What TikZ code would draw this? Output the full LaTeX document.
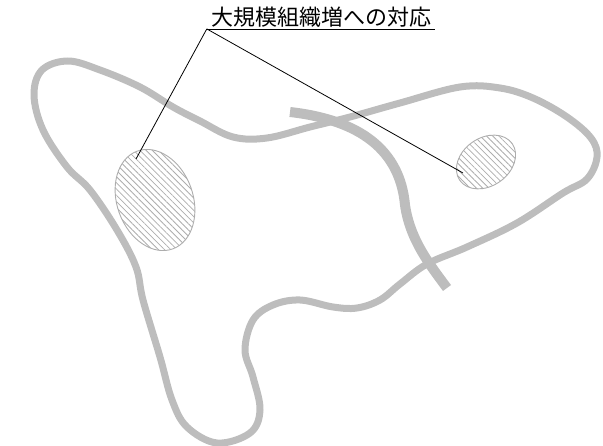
\documentclass[tikz,border=0pt]{standalone}
\usepackage{fontspec}
\newfontfamily\jpfont{Noto Sans CJK JP}
\usetikzlibrary{patterns.meta}
\definecolor{cellgray}{gray}{0.74}
\definecolor{hatchgray}{gray}{0.68}
\begin{document}
\begin{tikzpicture}[x=1pt, y=-1pt,
    outline/.style={draw=cellgray, line width=7pt, line join=round},
    fibre/.style={draw=cellgray, line width=10pt},
    nucleus/.style={draw=hatchgray, line width=0.9pt,
        pattern={Lines[angle=-45, distance=4.4pt, line width=0.8pt]}, pattern color=hatchgray},
    leader/.style={draw=black, line width=0.8pt}]
    \useasboundingbox (0,0) rectangle (603,446);

    % Contour de la cellule
    \draw[outline] plot[smooth cycle, tension=0.6] coordinates {
        (68,61) (100,70) (140,87) (173,107) (200,121) (233,137) (267,138)
        (310,127) (350,117) (400,103) (460,87) (500,88) (533,98) (567,117)
        (591,138) (597,157) (587,179) (563,193) (517,223) (467,247) (427,264)
        (400,284) (380,300) (357,308) (333,307) (300,300) (273,305) (253,320)
        (245,350) (253,377) (260,410) (250,433) (217,443) (187,427) (172,400)
        (160,357) (143,300) (136,267) (117,230) (90,190) (67,167) (43,130)
        (34,95) (42,70)};

    % Fibre
    \draw[fibre] (290,112) .. controls (360,120) and (400,150) .. (405,205)
        .. controls (410,240) and (430,265) .. (447,288);

    % Noyaux
    \coordinate (nucL) at (155,200);
    \coordinate (nucR) at (486,162);
    \draw[nucleus] (nucL) ellipse [x radius=38, y radius=52, rotate=20];
    \draw[nucleus] (nucR) ellipse [x radius=32, y radius=24, rotate=35];
    \coordinate (ptL) at (136,159);
    \coordinate (ptR) at (463,173);

    % Titre
    \node[font=\jpfont\fontsize{22}{26}\selectfont, inner xsep=4pt, inner ysep=1.5pt] (title) at (321,17)
        {大規模組織増への対応};
    \draw[leader] (title.south west) -- (title.south east);
    \draw[leader] (title.south west) -- (ptL);
    \draw[leader] (title.south west) -- (ptR);
\end{tikzpicture}
\end{document}
